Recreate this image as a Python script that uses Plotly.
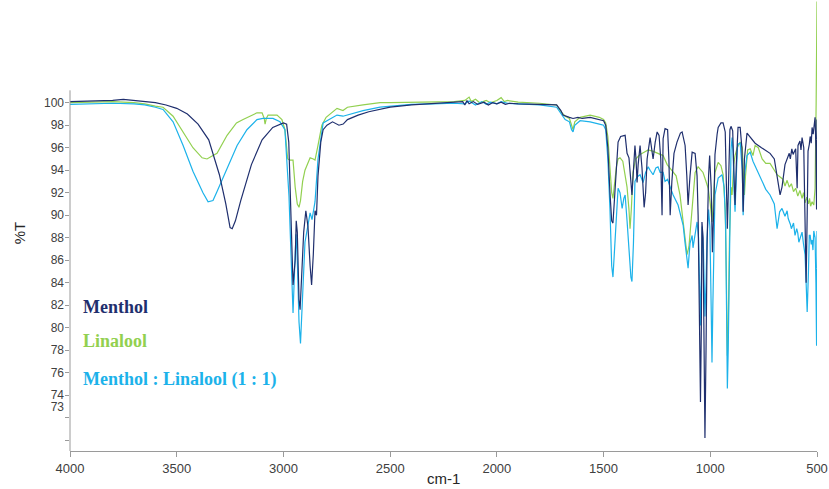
import plotly.graph_objects as go

# ---------------- data ----------------
menthol_wn = [4000, 3900, 3800, 3750, 3700, 3650, 3600, 3550, 3500, 3450, 3400, 3350, 3300, 3270, 3250, 3240,
              3225, 3200, 3150, 3100, 3050, 3000, 2985, 2975, 2965, 2955, 2945, 2940, 2935, 2927, 2922, 2915,
              2905, 2895, 2885, 2875, 2868, 2860, 2852, 2845, 2838, 2825, 2814, 2796, 2770, 2740, 2720, 2700,
              2650, 2600, 2550, 2500, 2400, 2300, 2200, 2160, 2150, 2140, 2130, 2110, 2090, 2060, 2040, 2020,
              2000, 1980, 1960, 1940, 1900, 1800, 1720, 1700, 1690, 1660, 1643, 1620, 1600, 1563, 1520, 1500,
              1490, 1480, 1470, 1462, 1456, 1450, 1440, 1432, 1420, 1405, 1399, 1390, 1381, 1372, 1367, 1360,
              1353, 1348, 1343, 1338, 1329, 1320, 1310, 1303, 1296, 1282, 1275, 1268, 1258, 1249, 1240, 1232,
              1226, 1221, 1212, 1200, 1194, 1188, 1180, 1170, 1156, 1140, 1132, 1118, 1110, 1104, 1095, 1085,
              1071, 1062, 1057, 1050, 1046, 1042, 1039, 1034, 1029, 1025, 1020, 1015, 1008, 1003, 996, 990,
              983, 978, 968, 963, 950, 940, 930, 924, 920, 915, 908, 903, 895, 888, 884, 878, 870, 860, 852,
              846, 840, 828, 813, 790, 760, 720, 700, 687, 673, 664, 650, 630, 625, 618, 612, 600, 593, 589,
              580, 575, 570, 562, 558, 555, 551, 546, 542, 536, 532, 527, 523, 518, 512, 509, 505, 502, 500]
menthol_t = [100.1, 100.15, 100.2, 100.3, 100.2, 100.1, 100.0, 99.8, 99.5, 99.0, 98.1, 96.7, 93.6, 91.0, 88.9, 88.8,
             89.5, 91.3, 94.5, 96.7, 97.8, 98.2, 98.1, 96.5, 90.0, 83.8, 86.0, 89.5, 88.5, 82.5, 81.6, 84.5,
             88.5, 90.4, 89.0, 85.5, 83.8, 86.5, 90.4, 90.0, 93.5, 96.5, 97.6, 98.0, 98.3, 98.0, 98.1, 98.5,
             98.9, 99.2, 99.4, 99.6, 99.8, 99.9, 100.0, 100.1, 99.8, 100.2, 99.9, 100.1, 99.85, 100.05, 99.8, 100.0,
             99.9, 100.05, 99.85, 99.95, 99.9, 99.85, 99.8, 99.3, 98.9, 98.7, 98.6, 98.7, 98.6, 98.7, 98.5, 98.4,
             98.0, 96.0, 92.0, 89.5, 89.3, 91.0, 94.5, 96.5, 97.0, 97.1, 97.1, 95.5, 95.1, 93.0, 91.8, 94.0,
             96.2, 95.0, 92.9, 94.5, 96.2, 94.2, 90.7, 92.0, 95.0, 96.9, 96.0, 95.0, 96.5, 97.4, 97.1, 95.0,
             90.0, 96.8, 97.7, 97.6, 95.0, 90.0, 93.0, 95.5, 96.5, 97.3, 97.4, 96.2, 93.5, 90.9, 93.5, 95.6,
             95.5, 93.5, 90.0, 80.0, 73.4, 80.0, 89.4, 88.0, 78.0, 70.2, 78.0, 87.4, 93.5, 95.3, 92.5, 86.7,
             91.0, 95.4, 97.2, 97.8, 98.2, 98.2, 97.4, 93.0, 88.8, 92.5, 97.6, 97.9, 97.5, 93.0, 90.9, 94.5, 97.8, 97.8, 96.0,
             90.3, 95.0, 97.3, 96.9, 96.4, 96.0, 95.5, 95.0, 93.3, 91.8, 92.5, 94.5, 95.5, 95.0, 95.9, 95.4, 95.9, 92.4, 96.2,
             96.6, 95.8, 96.9, 96.0, 92.0, 88.0, 84.0, 90.0, 95.7, 96.3, 97.0, 96.4, 97.8, 97.2, 98.5, 98.7, 96.0, 90.5, 98.5]

linalool_wn = [4000, 3900, 3800, 3700, 3650, 3600, 3564, 3517, 3470, 3424, 3381, 3358, 3330, 3311, 3264, 3220,
               3189, 3124, 3100, 3090, 3086, 3080, 3072, 3030, 3007, 2993, 2980, 2969, 2955, 2945, 2935, 2927,
               2920, 2910, 2899, 2875, 2860, 2852, 2838, 2820, 2800, 2749, 2721, 2700, 2627, 2547, 2500, 2400,
               2300, 2200, 2150, 2130, 2120, 2100, 2080, 2050, 2030, 2000, 1980, 1965, 1950, 1900, 1800, 1720,
               1700, 1680, 1660, 1650, 1643, 1635, 1610, 1563, 1520, 1500, 1490, 1480, 1470, 1462, 1456, 1450,
               1440, 1432, 1423, 1410, 1400, 1390, 1381, 1376, 1370, 1362, 1350, 1329, 1310, 1291, 1270, 1249,
               1221, 1202, 1180, 1160, 1142, 1125, 1118, 1109, 1100, 1090, 1080, 1071, 1057, 1045, 1034, 1020,
               1010, 1000, 992, 985, 978, 963, 950, 940, 930, 925, 920, 916, 910, 903, 898, 890, 884, 874, 860,
               850, 845, 840, 835, 825, 813, 800, 790, 775, 757, 740, 720, 700, 687, 673, 660, 650, 640, 630,
               620, 610, 600, 590, 580, 570, 563, 556, 548, 540, 535, 530, 523, 515, 509, 504, 501, 500]
linalool_t = [100.0, 100.05, 100.1, 100.0, 99.9, 99.7, 99.6, 98.8, 97.4, 96.0, 95.1, 95.0, 95.3, 95.5, 97.1, 98.2,
              98.5, 99.1, 99.1, 98.6, 98.1, 98.6, 98.9, 98.9, 98.5, 97.6, 95.0, 94.9, 94.9, 92.5, 91.0, 90.7,
              91.3, 93.0, 94.0, 95.1, 95.0, 94.9, 96.2, 98.0, 98.7, 99.5, 99.3, 99.6, 99.8, 100.0, 100.0, 100.05,
              100.1, 100.1, 100.2, 100.5, 100.1, 100.3, 100.0, 100.2, 100.0, 100.2, 100.45, 100.1, 100.2, 100.05, 99.95, 99.8,
              99.2, 98.8, 98.6, 97.9, 97.6, 98.3, 98.7, 98.9, 98.7, 98.5, 98.2, 97.0, 94.5, 92.0, 91.5, 92.5,
              94.3, 95.0, 95.1, 94.8, 93.8, 92.5, 90.5, 88.8, 90.5, 93.8, 95.0, 95.4, 95.6, 95.8, 95.7, 95.5,
              95.3, 94.5, 94.0, 93.5, 91.8, 89.0, 87.5, 86.5, 87.2, 89.5, 92.5, 93.8, 94.3, 94.0, 93.8, 93.0,
              92.4, 91.0, 89.4, 91.5, 93.8, 94.7, 94.4, 93.6, 90.5, 85.0, 77.5, 80.0, 88.0, 92.5, 91.8, 94.5, 95.3, 96.0, 96.5,
              96.0, 93.0, 91.8, 93.5, 95.8, 95.9, 95.3, 96.2, 96.0, 95.0, 94.6, 94.6, 94.0, 93.6, 93.4, 93.2, 92.6, 93.1, 92.5,
              92.8, 92.1, 92.4, 91.7, 92.2, 91.5, 92.0, 91.1, 91.6, 91.0, 91.5, 90.8, 91.2, 90.9, 92.4, 100.0, 105.0, 109.0]

mixture_wn = [4000, 3900, 3800, 3700, 3650, 3600, 3564, 3517, 3470, 3424, 3377, 3353, 3330, 3311, 3264, 3217,
              3171, 3124, 3096, 3049, 3016, 2993, 2974, 2960, 2955, 2948, 2941, 2935, 2927, 2920, 2913, 2899,
              2875, 2866, 2852, 2838, 2814, 2749, 2721, 2627, 2547, 2500, 2400, 2300, 2200, 2150, 2130, 2100,
              2070, 2050, 2030, 2000, 1980, 1950, 1900, 1800, 1720, 1700, 1680, 1660, 1650, 1643, 1635, 1610,
              1563, 1520, 1500, 1490, 1480, 1470, 1462, 1456, 1450, 1440, 1432, 1423, 1413, 1405, 1399, 1390,
              1381, 1372, 1367, 1360, 1353, 1343, 1329, 1315, 1303, 1291, 1282, 1268, 1255, 1245, 1235, 1221,
              1212, 1200, 1188, 1174, 1151, 1140, 1127, 1118, 1109, 1104, 1095, 1085, 1081, 1071, 1062, 1055,
              1049, 1046, 1042, 1038, 1032, 1028, 1025, 1020, 1015, 1008, 1002, 996, 992, 988, 983, 978, 963,
              945, 935, 928, 924, 920, 916, 910, 903, 898, 893, 888, 884, 878, 872, 860, 850, 846, 840, 828,
              813, 800, 781, 760, 740, 720, 700, 687, 675, 664, 650, 640, 635, 625, 620, 610, 603, 595, 590,
              585, 579, 570, 563, 556, 551, 546, 540, 536, 532, 527, 523, 519, 515, 509, 505, 502, 500]
mixture_t = [99.85, 99.9, 99.95, 99.9, 99.8, 99.6, 99.4, 98.3, 96.2, 93.9, 92.0, 91.2, 91.3, 92.1, 94.2, 96.2,
             97.6, 98.5, 98.6, 98.6, 98.3, 97.6, 91.7, 85.0, 81.3, 85.0, 88.3, 86.0, 80.5, 78.6, 82.0, 87.6,
             90.2, 89.6, 91.2, 95.0, 98.2, 98.9, 98.8, 99.3, 99.6, 99.7, 99.85, 99.9, 99.95, 99.9, 100.15, 99.8,
             100.1, 99.85, 100.05, 99.9, 100.1, 99.95, 99.9, 99.8, 99.6, 99.0, 98.5, 98.3, 97.6, 97.4, 98.0, 98.4,
             98.3, 98.1, 98.0, 97.6, 95.0, 90.5, 85.5, 84.5, 86.5, 90.5, 92.4, 92.0, 90.6, 91.5, 91.8, 89.5,
             87.0, 84.5, 84.1, 87.5, 93.0, 93.4, 93.6, 92.9, 93.8, 94.3, 94.0, 93.6, 94.2, 94.3, 93.8, 93.8,
             93.0, 93.2, 92.5, 91.8, 90.9, 90.0, 89.1, 87.5, 85.8, 85.3, 87.5, 88.2, 87.1, 88.5, 89.4, 88.0,
             84.0, 80.2, 84.5, 89.0, 87.0, 83.0, 81.0, 84.0, 88.0, 90.5, 89.0, 82.0, 76.9, 82.0, 89.0, 91.8, 93.3,
             93.6, 92.5, 89.0, 82.0, 74.6, 78.0, 87.0, 95.8, 96.9, 95.5, 92.0, 90.3, 93.5, 96.3, 96.4, 94.0, 90.0, 93.5, 95.3,
             95.6, 94.8, 94.0, 93.0, 92.3, 91.8, 91.0, 88.8, 90.3, 90.6, 89.9, 90.4, 89.7, 89.2, 88.8, 89.3, 88.2, 88.8, 88.4,
             87.6, 87.9, 88.5, 87.4, 86.5, 84.0, 81.4, 85.0, 88.2, 88.2, 87.4, 87.8, 86.9, 88.6, 88.0, 84.0, 78.4, 88.6]

x_ticks = [4000, 3500, 3000, 2500, 2000, 1500, 1000, 500]
y_ticks = [100, 98, 96, 94, 92, 90, 88, 86, 84, 82, 80, 78, 76, 74, 73]
y_minor = [70, 72, 74, 76, 78, 80, 82, 84, 86, 88, 90, 92, 94, 96, 98, 100]

series_names = ["Menthol", "Linalool", "Menthol : Linalool (1 : 1)"]
series_colors = ["#1f2f6e", "#92d050", "#1cb2ea"]

# ---------------- figure ----------------
Y_LOW, Y_HIGH, AXIS_TOP = 69.04, 109.13, 101.1
AXIS_GRAY = "#9a9a9a"

fig = go.Figure()
fig.add_trace(go.Scatter(x=linalool_wn, y=linalool_t, mode="lines", name=series_names[1],
                         line=dict(color=series_colors[1], width=1.2)))
fig.add_trace(go.Scatter(x=mixture_wn, y=mixture_t, mode="lines", name=series_names[2],
                         line=dict(color=series_colors[2], width=1.2)))
fig.add_trace(go.Scatter(x=menthol_wn, y=menthol_t, mode="lines", name=series_names[0],
                         line=dict(color=series_colors[0], width=1.2)))

fig.update_layout(
    width=829, height=489,
    margin=dict(l=70, r=12, t=0, b=38),
    paper_bgcolor="white", plot_bgcolor="white",
    showlegend=False,
    font=dict(family="Liberation Sans, Arial, sans-serif", size=13, color="#404040"),
)
fig.update_xaxes(
    range=[4000, 500], tickvals=x_ticks, ticktext=[str(v) for v in x_ticks],
    showline=True, linecolor=AXIS_GRAY, linewidth=1, mirror=False,
    ticks="outside", ticklen=5, tickcolor=AXIS_GRAY, showgrid=False, zeroline=False,
    tickfont=dict(size=13, color="#404040"),
)
fig.update_yaxes(
    range=[Y_LOW, Y_HIGH], tickvals=y_ticks, ticktext=[str(v) for v in y_ticks],
    showline=False, ticks="", showgrid=False, zeroline=False,
    ticklabelstandoff=5,
    minor=dict(tickvals=y_minor, ticks="outside", ticklen=4, tickcolor=AXIS_GRAY, showgrid=False),
    tickfont=dict(size=12, color="#404040"),
)
fig.add_shape(type="line", xref="paper", x0=0, x1=0, yref="y", y0=Y_LOW, y1=AXIS_TOP,
              line=dict(color=AXIS_GRAY, width=1))

# axis titles
fig.add_annotation(text="cm-1", xref="paper", yref="paper", x=0.5, y=-0.062, yanchor="middle",
                   showarrow=False, font=dict(size=15, color="#262626"))
fig.add_annotation(text="%T", xref="paper", yref="paper", x=-0.068, y=0.483, textangle=-90,
                   xanchor="center", yanchor="middle",
                   showarrow=False, font=dict(size=15, color="#262626"))

# in-plot legend labels
legend_y = [81.85, 78.85, 75.4]
for name, color, yy in zip(series_names, series_colors, legend_y):
    fig.add_annotation(text="<b>%s</b>" % name, x=3950, y=yy, xref="x", yref="y",
                       xanchor="left", yanchor="middle", showarrow=False,
                       font=dict(family="Liberation Serif, Times New Roman, serif", size=18, color=color))

fig.write_html("out.html")
